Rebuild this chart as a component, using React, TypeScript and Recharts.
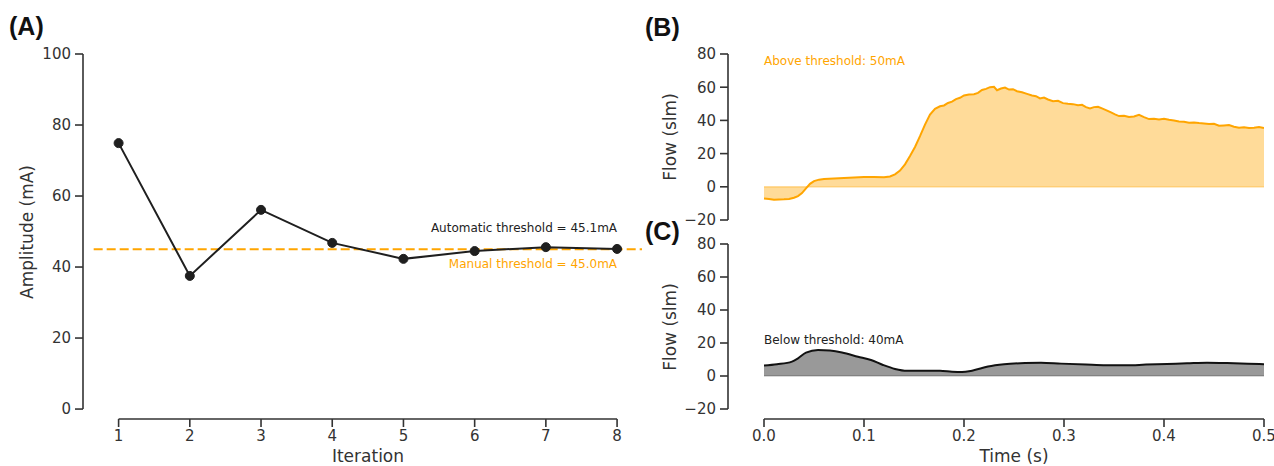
import React from 'react';
import {
  LineChart,
  Line,
  AreaChart,
  Area,
  XAxis,
  YAxis,
  ReferenceLine,
  ReferenceDot,
} from 'recharts';

// panel A: threshold search
const iterations = [1, 2, 3, 4, 5, 6, 7, 8];
const amplitudes = [74.9, 37.5, 56.1, 46.8, 42.3, 44.5, 45.6, 45.1];
const manualThreshold = 45.0;
const ampTicks = [0, 20, 40, 60, 80, 100];

// panel B: flow above threshold (50mA)
const timeAbove = [
  0.0, 0.005, 0.01, 0.015, 0.02, 0.025, 0.03, 0.034, 0.038, 0.042, 0.046, 0.05, 0.055, 0.06, 0.07,
  0.08, 0.09, 0.1, 0.11, 0.12, 0.126, 0.131, 0.136, 0.141, 0.146, 0.151, 0.156, 0.161, 0.166, 0.171,
  0.176, 0.18, 0.184, 0.188, 0.192, 0.196, 0.2, 0.205, 0.21, 0.214, 0.218, 0.222, 0.226, 0.23, 0.233,
  0.237, 0.241, 0.245, 0.249, 0.253, 0.258, 0.263, 0.268, 0.272, 0.276, 0.28, 0.284, 0.289, 0.294,
  0.299, 0.304, 0.309, 0.314, 0.318, 0.322, 0.326, 0.33, 0.334, 0.338, 0.342, 0.347, 0.351, 0.355,
  0.36, 0.365, 0.37, 0.375, 0.38, 0.385, 0.39, 0.395, 0.4, 0.405, 0.41, 0.415, 0.42, 0.425, 0.43,
  0.435, 0.44, 0.445, 0.45, 0.455, 0.46, 0.465, 0.47, 0.475, 0.48, 0.485, 0.49, 0.495, 0.5,
];
const flowAbove = [
  -7.1, -7.4, -7.8, -7.6, -7.5, -7.3, -6.6, -5.6, -3.8, -1.0, 1.8, 3.4, 4.3, 4.7, 5.0,
  5.3, 5.6, 5.9, 5.9, 5.7, 6.2, 7.5, 9.8, 13.5, 18.5, 24.0, 30.5, 37.5, 43.5, 47.0,
  48.5, 49.0, 50.5, 51.3, 52.8, 53.6, 55.0, 55.6, 55.8, 56.6, 58.3, 59.0, 60.0, 60.2, 58.2,
  59.2, 59.8, 58.6, 58.8, 57.6, 57.0, 56.0, 55.0, 54.6, 53.2, 53.8, 52.6, 51.6, 51.8,
  50.4, 50.0, 49.8, 49.2, 49.4, 48.0, 47.2, 48.0, 48.2, 47.2, 46.2, 44.8, 43.6, 42.6,
  42.8, 42.0, 42.4, 43.4, 42.0, 40.8, 41.0, 40.6, 41.0, 40.4, 40.0, 39.4, 39.2, 38.6, 38.8,
  38.4, 38.2, 37.8, 38.0, 36.8, 37.0, 37.2, 36.2, 35.6, 35.8, 35.4, 35.6, 36.0, 35.4,
];

// panel C: flow below threshold (40mA)
const timeBelow = [
  0.0, 0.013, 0.028, 0.034, 0.042, 0.054, 0.066, 0.078, 0.094, 0.107, 0.119, 0.131, 0.143, 0.159,
  0.176, 0.188, 0.198, 0.208, 0.224, 0.24, 0.261, 0.277, 0.297, 0.322, 0.342, 0.362, 0.382, 0.403,
  0.423, 0.443, 0.463, 0.484, 0.5,
];
const flowBelow = [
  6.3, 7.1, 8.7, 10.7, 14.2, 15.8, 15.4, 14.2, 11.7, 9.7, 6.7, 4.3, 3.2, 3.2,
  3.2, 2.6, 2.4, 3.2, 5.7, 7.1, 7.9, 8.1, 7.5, 6.9, 6.5, 6.5, 6.9, 7.3,
  7.7, 8.1, 7.9, 7.5, 7.1,
];
const flowTicks = [-20, 0, 20, 40, 60, 80];
const timeTicks = [0, 0.1, 0.2, 0.3, 0.4, 0.5];

const ampData = iterations.map((it, i) => ({ it, amp: amplitudes[i] }));
const aboveData = timeAbove.map((t, i) => ({ t, flow: flowAbove[i] }));
const belowData = timeBelow.map((t, i) => ({ t, flow: flowBelow[i] }));

const FONT = 'DejaVu Sans';
const INK = '#333333';
const ORANGE = '#FFA500';
const LINE = '#1f1f1f';

const tickStyle = { fill: INK, fontSize: 15, fontFamily: FONT };
const tickLineStyle = { stroke: INK, strokeWidth: 1.6 };
const spine = { stroke: INK, strokeWidth: 1.6 };
const minus = (v: number) => (v < 0 ? '\u2212' + Math.abs(v) : String(v));

const AxisTitle = (props: any) => {
  const { px, py, text, rotate } = props;
  return (
    <text
      x={px}
      y={py}
      transform={rotate ? `rotate(-90, ${px}, ${py})` : undefined}
      textAnchor="middle"
      dominantBaseline="central"
      fontSize={17}
      fontFamily={FONT}
      fill={INK}
    >
      {text}
    </text>
  );
};

const Note = (props: any) => {
  const { viewBox, text, color, anchor } = props;
  return (
    <text
      x={viewBox.x}
      y={viewBox.y}
      textAnchor={anchor}
      dominantBaseline="central"
      fontSize={12}
      fontFamily={FONT}
      fill={color}
    >
      {text}
    </text>
  );
};

const panelLabel: React.CSSProperties = {
  position: 'absolute',
  fontFamily: 'Liberation Sans, Arial, sans-serif',
  fontWeight: 'bold',
  fontSize: 25,
  lineHeight: '25px',
  color: '#111',
};

export default function App() {
  return (
    <div style={{ position: 'absolute', left: 0, top: 0, width: 1274, height: 466, background: '#fff' }}>
      {/* (A) amplitude per iteration */}
      <div style={{ position: 'absolute', left: 0, top: 0 }}>
        <LineChart width={645} height={466} data={ampData} margin={{ top: 54, right: 3, bottom: 0, left: 23 }}>
          <XAxis
            type="number"
            dataKey="it"
            domain={[0.5, 8.35]}
            ticks={iterations}
            interval={0}
            axisLine={false}
            tickLine={tickLineStyle}
            tickSize={8}
            tickMargin={3}
            tick={tickStyle}
            height={47}
            allowDataOverflow
            label={<AxisTitle px={368} py={456} text="Iteration" />}
          />
          <YAxis
            type="number"
            domain={[-2.8, 100]}
            ticks={ampTicks}
            interval={0}
            axisLine={false}
            tickLine={tickLineStyle}
            tickSize={8}
            tickMargin={4}
            tick={tickStyle}
            width={60}
            allowDataOverflow
            label={<AxisTitle px={27} py={232} text="Amplitude (mA)" rotate />}
          />
          <ReferenceLine segment={[{ x: 0.5, y: 0 }, { x: 0.5, y: 100 }]} {...spine} ifOverflow="visible" />
          <ReferenceLine segment={[{ x: 1, y: -2.8 }, { x: 8, y: -2.8 }]} {...spine} ifOverflow="visible" />
          <ReferenceLine
            segment={[{ x: 0.65, y: manualThreshold }, { x: 8.35, y: manualThreshold }]}
            stroke={ORANGE}
            strokeWidth={2}
            strokeDasharray="9 4"
            ifOverflow="visible"
          />
          <Line
            dataKey="amp"
            type="linear"
            stroke={LINE}
            strokeWidth={2}
            dot={{ r: 4.5, fill: LINE, stroke: LINE, strokeWidth: 1 }}
            isAnimationActive={false}
          />
          <ReferenceDot
            x={8}
            y={51}
            r={0}
            fill="none"
            stroke="none"
            label={<Note text="Automatic threshold = 45.1mA" color="#222" anchor="end" />}
          />
          <ReferenceDot
            x={8}
            y={40.9}
            r={0}
            fill="none"
            stroke="none"
            label={<Note text="Manual threshold = 45.0mA" color={ORANGE} anchor="end" />}
          />
        </LineChart>
      </div>

      {/* (B) above threshold */}
      <div style={{ position: 'absolute', left: 645, top: 0 }}>
        <AreaChart width={629} height={232} data={aboveData} margin={{ top: 54, right: 10, bottom: 12, left: 23 }}>
          <XAxis type="number" dataKey="t" domain={[-0.036, 0.5]} ticks={timeTicks} hide allowDataOverflow />
          <YAxis
            type="number"
            domain={[-20, 80]}
            ticks={flowTicks}
            interval={0}
            tickFormatter={minus}
            axisLine={spine}
            tickLine={tickLineStyle}
            tickSize={8}
            tickMargin={4}
            tick={tickStyle}
            width={60}
            allowDataOverflow
            label={<AxisTitle px={25} py={137} text="Flow (slm)" rotate />}
          />
          <Area
            dataKey="flow"
            type="linear"
            stroke={ORANGE}
            strokeWidth={2}
            fill={ORANGE}
            fillOpacity={0.4}
            isAnimationActive={false}
          />
          {/* fill edge along zero */}
          <ReferenceLine
            segment={[{ x: 0, y: 0 }, { x: 0.5, y: 0 }]}
            stroke={ORANGE}
            strokeOpacity={0.45}
            strokeWidth={1.3}
            ifOverflow="visible"
          />
          <ReferenceDot
            x={0}
            y={75.8}
            r={0}
            fill="none"
            stroke="none"
            label={<Note text="Above threshold: 50mA" color={ORANGE} anchor="start" />}
          />
        </AreaChart>
      </div>

      {/* (C) below threshold */}
      <div style={{ position: 'absolute', left: 645, top: 230 }}>
        <AreaChart width={629} height={236} data={belowData} margin={{ top: 14, right: 10, bottom: 0, left: 23 }}>
          <XAxis
            type="number"
            dataKey="t"
            domain={[-0.036, 0.5]}
            ticks={timeTicks}
            interval={0}
            tickFormatter={(v: number) => v.toFixed(1)}
            axisLine={false}
            tickLine={tickLineStyle}
            tickSize={8}
            tickMargin={3}
            tick={tickStyle}
            height={47}
            allowDataOverflow
            label={<AxisTitle px={369} py={226} text="Time (s)" />}
          />
          <YAxis
            type="number"
            domain={[-26.06, 80]}
            ticks={flowTicks}
            interval={0}
            tickFormatter={minus}
            axisLine={{ ...spine, strokeDasharray: '165 60' }}
            tickLine={tickLineStyle}
            tickSize={8}
            tickMargin={4}
            tick={tickStyle}
            width={60}
            allowDataOverflow
            label={<AxisTitle px={25} py={97} text="Flow (slm)" rotate />}
          />
          <ReferenceLine segment={[{ x: 0, y: -26.06 }, { x: 0.5, y: -26.06 }]} {...spine} ifOverflow="visible" />
          <Area
            dataKey="flow"
            type="monotone"
            stroke="#111"
            strokeWidth={2}
            fill="#000"
            fillOpacity={0.4}
            isAnimationActive={false}
          />
          <ReferenceLine
            segment={[{ x: 0, y: 0 }, { x: 0.5, y: 0 }]}
            stroke="#000"
            strokeOpacity={0.2}
            strokeWidth={1.3}
            ifOverflow="visible"
          />
          <ReferenceDot
            x={0}
            y={21.8}
            r={0}
            fill="none"
            stroke="none"
            label={<Note text="Below threshold: 40mA" color="#222" anchor="start" />}
          />
        </AreaChart>
      </div>

      <div style={{ ...panelLabel, left: 9, top: 14 }}>(A)</div>
      <div style={{ ...panelLabel, left: 645, top: 15 }}>(B)</div>
      <div style={{ ...panelLabel, left: 645, top: 219 }}>(C)</div>
    </div>
  );
}
